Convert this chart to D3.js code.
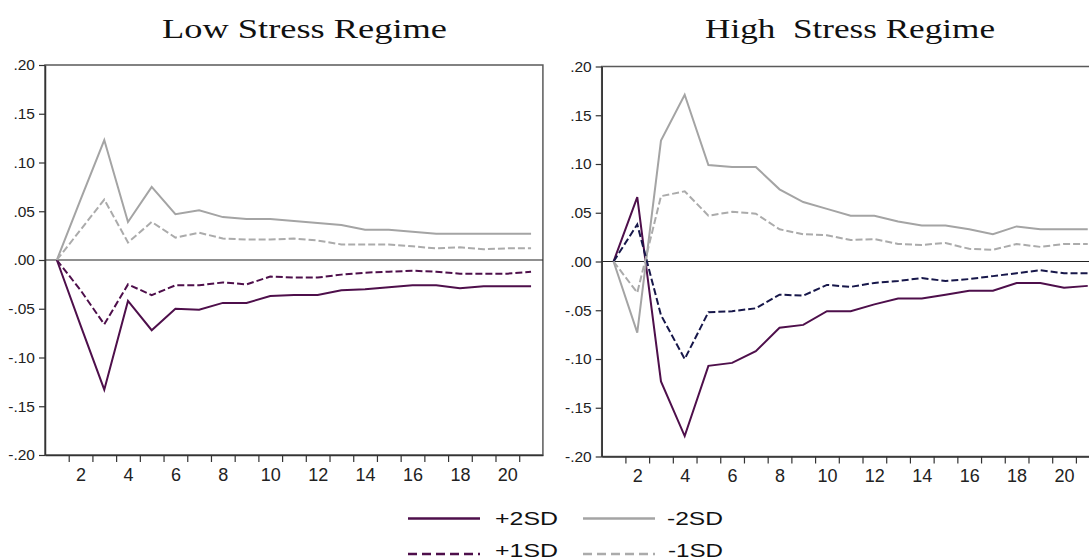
<!DOCTYPE html>
<html><head><meta charset="utf-8">
<script src="https://cdn.jsdelivr.net/npm/d3@7"></script>
<style>
html,body{margin:0;padding:0;background:#fff;}
svg{display:block;}
</style></head>
<body>
<svg id="chart" width="1089" height="559"></svg>
<script>
const periods = d3.range(1, 22);
const xLabelValues = [2,4,6,8,10,12,14,16,18,20];
const yTickValues = [-0.20,-0.15,-0.10,-0.05,0,0.05,0.10,0.15,0.20];
const titles = ["Low Stress Regime", "High  Stress Regime"];
const seriesNames = ["+2SD", "-2SD", "+1SD", "-1SD"];

const lowP2 = [0,-0.067,-0.133,-0.042,-0.072,-0.050,-0.051,-0.044,-0.044,-0.037,-0.036,-0.036,-0.031,-0.030,-0.028,-0.026,-0.026,-0.029,-0.027,-0.027,-0.027];
const lowM2 = [0,0.062,0.123,0.039,0.075,0.047,0.051,0.044,0.042,0.042,0.040,0.038,0.036,0.031,0.031,0.029,0.027,0.027,0.027,0.027,0.027];
const lowP1 = [0,-0.031,-0.066,-0.025,-0.036,-0.026,-0.026,-0.023,-0.025,-0.017,-0.018,-0.018,-0.015,-0.013,-0.012,-0.011,-0.012,-0.014,-0.014,-0.014,-0.012];
const lowM1 = [0,0.031,0.062,0.018,0.039,0.023,0.028,0.022,0.021,0.021,0.022,0.020,0.016,0.016,0.016,0.014,0.012,0.013,0.011,0.012,0.012];

const highP2 = [0,0.066,-0.123,-0.179,-0.107,-0.104,-0.092,-0.068,-0.065,-0.051,-0.051,-0.044,-0.038,-0.038,-0.034,-0.030,-0.030,-0.022,-0.022,-0.027,-0.025];
const highM2 = [0,-0.073,0.124,0.171,0.099,0.097,0.097,0.074,0.061,0.054,0.047,0.047,0.041,0.037,0.037,0.033,0.028,0.036,0.033,0.033,0.033];
const highP1 = [0,0.038,-0.055,-0.100,-0.052,-0.051,-0.048,-0.034,-0.035,-0.024,-0.026,-0.022,-0.020,-0.017,-0.020,-0.018,-0.015,-0.012,-0.009,-0.012,-0.012];
const highM1 = [0,-0.032,0.067,0.072,0.047,0.051,0.049,0.033,0.028,0.027,0.022,0.023,0.018,0.017,0.019,0.013,0.012,0.018,0.015,0.018,0.018];

const PURPLE = "#4e0f4b", NAVY = "#17174a", GRAY = "#a4a4a4", LGRAY = "#ababab";
const svg = d3.select("#chart");
const narrow = "'Liberation Sans Narrow','Arial Narrow','Liberation Sans',Arial,sans-serif";

const panels = [
  {title: titles[0], tx: 162, tw: 285, left: 45, top: 65, bottom: 455,
   series: [
     {v: lowP2, c: PURPLE, dash: null},
     {v: lowM2, c: GRAY, dash: null},
     {v: lowP1, c: PURPLE, dash: "7,3"},
     {v: lowM1, c: LGRAY, dash: "7,3"}]},
  {title: titles[1], tx: 705, tw: 290, left: 601.7, top: 66.5, bottom: 456.5,
   series: [
     {v: highP2, c: PURPLE, dash: null},
     {v: highM2, c: GRAY, dash: null},
     {v: highP1, c: NAVY, dash: "7,3"},
     {v: highM1, c: LGRAY, dash: "7,3"}]}
];

const bandW = 23.71;
const fmt = d => {
  const a = Math.round(Math.abs(d) * 100);
  return (d < 0 ? "-" : "") + "." + String(a).padStart(2, "0");
};

panels.forEach(p => {
  const right = p.left + bandW * 21;
  const x = d3.scaleLinear().domain([0.5, 21.5]).range([p.left, right]);
  const y = d3.scaleLinear().domain([-0.20, 0.20]).range([p.bottom, p.top]);
  const g = svg.append("g");

  g.append("text").attr("x", p.tx).attr("y", 38)
    .attr("textLength", p.tw).attr("lengthAdjust", "spacingAndGlyphs")
    .style("white-space", "pre")
    .attr("font-family", "'Liberation Serif','Times New Roman',serif")
    .attr("font-size", 27).attr("fill", "#111").text(p.title);

  g.append("rect").attr("x", p.left).attr("y", p.top)
    .attr("width", right - p.left).attr("height", p.bottom - p.top)
    .attr("fill", "none").attr("stroke", "#5a5a5a").attr("stroke-width", 1.5);

  g.append("line").attr("x1", p.left).attr("x2", right)
    .attr("y1", y(0)).attr("y2", y(0)).attr("stroke", "#222").attr("stroke-width", 1.2);

  const ya = g.append("g").attr("transform", `translate(${p.left},0)`)
    .call(d3.axisLeft(y).tickValues(yTickValues).tickSize(6).tickSizeOuter(0).tickPadding(4).tickFormat(fmt));
  ya.select(".domain").attr("stroke", "#333").attr("stroke-width", 1.5);
  ya.selectAll(".tick line").attr("stroke", "#333").attr("stroke-width", 1.2);
  ya.selectAll("text").attr("font-family", narrow).attr("font-size", 15.5).attr("fill", "#222");

  const xa = g.append("g").attr("transform", `translate(0,${p.bottom})`)
    .call(d3.axisBottom(x).tickValues(d3.range(1.5, 21.5, 1)).tickSize(7).tickSizeOuter(0).tickFormat(""));
  xa.select(".domain").attr("stroke", "#333").attr("stroke-width", 1.5);
  xa.selectAll(".tick line").attr("stroke", "#333").attr("stroke-width", 1.2);

  const xl = g.append("g").attr("transform", `translate(0,${p.bottom})`)
    .call(d3.axisBottom(x).tickValues(xLabelValues).tickSize(0).tickPadding(13).tickFormat(d3.format("d")));
  xl.select(".domain").remove();
  xl.selectAll("text").attr("font-family", narrow).attr("font-size", 18).attr("fill", "#222");

  const line = d3.line().x((d, i) => x(periods[i])).y(d => y(d));
  p.series.forEach(s => {
    g.append("path").datum(s.v).attr("d", line)
      .attr("fill", "none").attr("stroke", s.c).attr("stroke-width", 2)
      .attr("stroke-dasharray", s.dash).attr("stroke-linejoin", "miter");
  });
});

const legend = [
  {name: seriesNames[0], c: PURPLE, dash: null, x: 408, y: 518.5, tx: 495, tw: 63, ty: 525},
  {name: seriesNames[1], c: GRAY, dash: null, x: 583, y: 518.5, tx: 667, tw: 56, ty: 525},
  {name: seriesNames[2], c: PURPLE, dash: "9,5", x: 408, y: 554, tx: 495, tw: 63, ty: 556.5},
  {name: seriesNames[3], c: LGRAY, dash: "9,5", x: 583, y: 554, tx: 668, tw: 55, ty: 556.5}
];
const lg = svg.append("g");
legend.forEach(l => {
  lg.append("line").attr("x1", l.x).attr("x2", l.x + 72).attr("y1", l.y).attr("y2", l.y)
    .attr("stroke", l.c).attr("stroke-width", 2.4).attr("stroke-dasharray", l.dash);
  lg.append("text").attr("x", l.tx).attr("y", l.ty)
    .attr("textLength", l.tw).attr("lengthAdjust", "spacingAndGlyphs")
    .attr("font-family", "'Liberation Sans',Arial,sans-serif").attr("font-size", 19)
    .attr("fill", "#111").text(l.name);
});
</script>
</body></html>
